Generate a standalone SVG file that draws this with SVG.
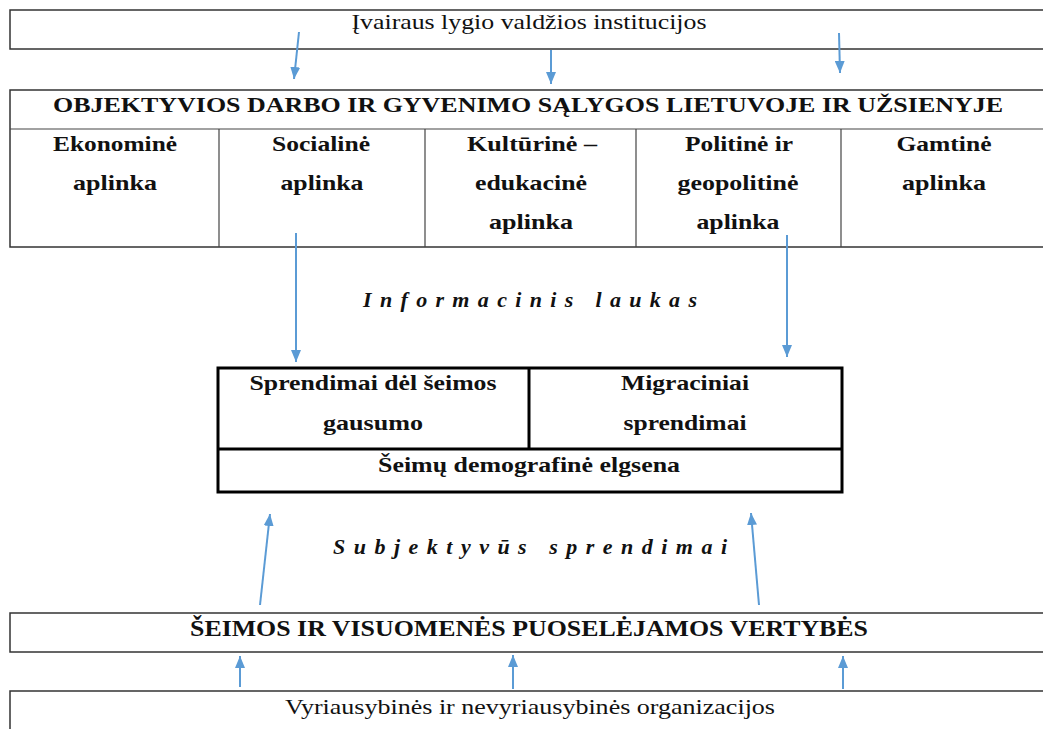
<svg xmlns="http://www.w3.org/2000/svg" width="1043" height="729" viewBox="0 0 1043 729">
<style>
.box{fill:#fff;stroke:#333;stroke-width:1.5}
.ln{stroke:#444;stroke-width:1.2}
.reg{font-family:"Liberation Serif",serif;font-size:22px;fill:#111;text-anchor:middle}
.b{font-family:"Liberation Serif",serif;font-size:22px;font-weight:bold;fill:#111;text-anchor:middle}
.bi{font-family:"Liberation Serif",serif;font-size:22px;font-weight:bold;font-style:italic;fill:#111;text-anchor:middle}
.arr{stroke:#5b9bd5;stroke-width:2;fill:none;marker-end:url(#ah)}
</style>
<defs>
<marker id="ah" viewBox="0 0 12 10" refX="12" refY="5" markerWidth="12" markerHeight="10" markerUnits="userSpaceOnUse" orient="auto">
<path d="M0,0 L12,5 L0,10 z" fill="#5b9bd5"/>
</marker>
</defs>
<g id="top">
<rect class="box" x="10" y="10" width="1045" height="39"/>
<text class="reg" x="529" y="29" textLength="355" lengthAdjust="spacingAndGlyphs">Įvairaus lygio valdžios institucijos</text>
</g>
<g id="conditions">
<rect class="box" x="10" y="90" width="1045" height="157"/>
<line class="ln" x1="10" y1="129" x2="1055" y2="129"/>
<line class="ln" x1="219" y1="129" x2="219" y2="247"/>
<line class="ln" x1="425" y1="129" x2="425" y2="247"/>
<line class="ln" x1="636" y1="129" x2="636" y2="247"/>
<line class="ln" x1="841" y1="129" x2="841" y2="247"/>
<text class="b" x="528" y="112" textLength="950" lengthAdjust="spacingAndGlyphs">OBJEKTYVIOS DARBO IR GYVENIMO SĄLYGOS LIETUVOJE IR UŽSIENYJE</text>
</g>
<g id="ekonomine"><text class="b" x="115" y="151" textLength="124" lengthAdjust="spacingAndGlyphs">Ekonominė</text><text class="b" x="115" y="190" textLength="84" lengthAdjust="spacingAndGlyphs">aplinka</text></g>
<g id="sociali"><text class="b" x="321" y="151" textLength="98" lengthAdjust="spacingAndGlyphs">Socialinė</text><text class="b" x="322" y="190" textLength="83" lengthAdjust="spacingAndGlyphs">aplinka</text></g>
<g id="kulturine"><text class="b" x="532" y="151" textLength="130" lengthAdjust="spacingAndGlyphs">Kultūrinė –</text><text class="b" x="531" y="190" textLength="112" lengthAdjust="spacingAndGlyphs">edukacinė</text><text class="b" x="531" y="229" textLength="84" lengthAdjust="spacingAndGlyphs">aplinka</text></g>
<g id="politine"><text class="b" x="739" y="151" textLength="108" lengthAdjust="spacingAndGlyphs">Politinė ir</text><text class="b" x="738" y="190" textLength="121" lengthAdjust="spacingAndGlyphs">geopolitinė</text><text class="b" x="738" y="229" textLength="83" lengthAdjust="spacingAndGlyphs">aplinka</text></g>
<g id="gamtine"><text class="b" x="944" y="151" textLength="95" lengthAdjust="spacingAndGlyphs">Gamtinė</text><text class="b" x="944" y="190" textLength="84" lengthAdjust="spacingAndGlyphs">aplinka</text></g>
<g id="info"><text class="bi" x="530" y="307" textLength="334" lengthAdjust="spacing">Informacinis laukas</text></g>
<g id="decisions">
<rect x="218" y="368" width="624" height="124" fill="#fff" stroke="#000" stroke-width="3"/>
<line x1="529" y1="368" x2="529" y2="449" stroke="#000" stroke-width="3"/>
<line x1="218" y1="449" x2="842" y2="449" stroke="#000" stroke-width="3"/>
<text class="b" x="373" y="390" textLength="247" lengthAdjust="spacingAndGlyphs">Sprendimai dėl šeimos</text>
<text class="b" x="373" y="430" textLength="100" lengthAdjust="spacingAndGlyphs">gausumo</text>
<text class="b" x="685" y="390" textLength="128" lengthAdjust="spacingAndGlyphs">Migraciniai</text>
<text class="b" x="685" y="430" textLength="123" lengthAdjust="spacingAndGlyphs">sprendimai</text>
<text class="b" x="529" y="472" textLength="302" lengthAdjust="spacingAndGlyphs">Šeimų demografinė elgsena</text>
</g>
<g id="subj"><text class="bi" x="530" y="554" textLength="394" lengthAdjust="spacing">Subjektyvūs sprendimai</text></g>
<g id="values">
<rect class="box" x="10" y="613" width="1045" height="39"/>
<text class="b" x="529" y="636" textLength="678" lengthAdjust="spacingAndGlyphs" style="font-size:23px">ŠEIMOS IR VISUOMENĖS PUOSELĖJAMOS VERTYBĖS</text>
</g>
<g id="orgs">
<rect class="box" x="10" y="691" width="1045" height="50"/>
<text class="reg" x="530" y="714" textLength="490" lengthAdjust="spacingAndGlyphs">Vyriausybinės ir nevyriausybinės organizacijos</text>
</g>
<g id="connectors">
<line class="arr" x1="299" y1="32" x2="294" y2="79"/>
<line class="arr" x1="551" y1="50" x2="551" y2="84"/>
<line class="arr" x1="839" y1="33" x2="840" y2="73"/>
<line class="arr" x1="296" y1="233" x2="296" y2="362"/>
<line class="arr" x1="787" y1="235" x2="787" y2="357"/>
<line class="arr" x1="260" y1="605" x2="270" y2="514"/>
<line class="arr" x1="759" y1="605" x2="751" y2="513"/>
<line class="arr" x1="240" y1="687" x2="240" y2="656"/>
<line class="arr" x1="513" y1="689" x2="513" y2="655"/>
<line class="arr" x1="843" y1="689" x2="843" y2="656"/>
</g>
</svg>
